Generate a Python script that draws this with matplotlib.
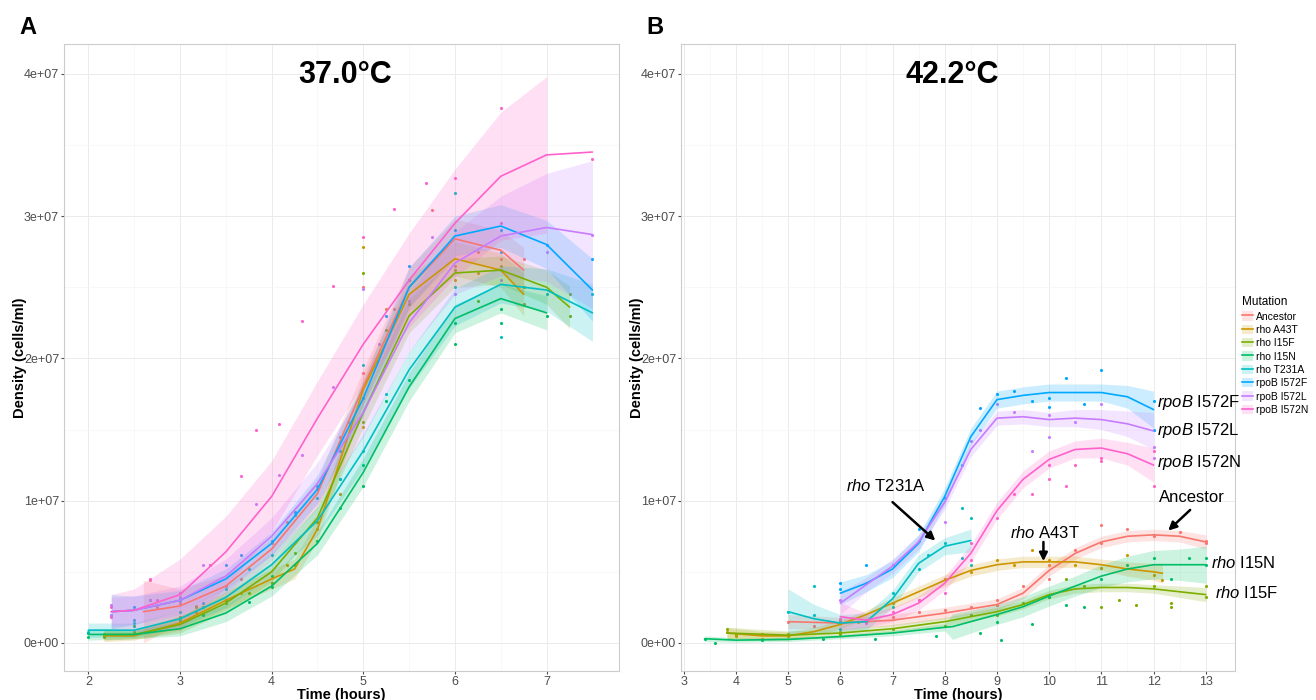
"""
Growth curves of rho / rpoB mutants at 37.0 and 42.2 degrees (two panels).
"""

import matplotlib
matplotlib.use("Agg")
import matplotlib.pyplot as plt
from matplotlib.lines import Line2D
from matplotlib.patches import Patch
from matplotlib.legend_handler import HandlerTuple

# ---- data (density in units of 1e7 cells/ml) ----
SCALE = 1e7

MUTATIONS = ["Ancestor", "rho A43T", "rho I15F", "rho I15N",
             "rho T231A", "rpoB I572F", "rpoB I572L", "rpoB I572N"]
COLORS = ["#F8766D", "#CD9600", "#7CAE00", "#00BE67",
          "#00BFC4", "#00A9FF", "#C77CFF", "#FF61CC"]

TITLE_A = "37.0°C"
TITLE_B = "42.2°C"
X_TICKS_A = [2, 3, 4, 5, 6, 7]
X_TICKS_B = [3, 4, 5, 6, 7, 8, 9, 10, 11, 12, 13]
Y_TICKS = [0, 1, 2, 3, 4]
Y_TICK_LABELS = ["0e+00", "1e+07", "2e+07", "3e+07", "4e+07"]

# smoothed fit: (time, density, band half-width)
A_ANC_FIT = [(2.6, 0.22, 0.22), (3.0, 0.26, 0.12), (3.5, 0.40, 0.08), (4.0, 0.66, 0.08),
             (4.5, 1.05, 0.10), (5.0, 1.80, 0.12), (5.5, 2.50, 0.14), (6.0, 2.84, 0.14),
             (6.5, 2.76, 0.14), (6.75, 2.62, 0.16)]
A_A43T_FIT = [(2.17, 0.05, 0.04), (2.5, 0.05, 0.03), (3.0, 0.14, 0.05), (3.5, 0.30, 0.06),
              (4.0, 0.45, 0.07), (4.25, 0.52, 0.07), (4.5, 0.80, 0.08), (5.0, 1.78, 0.10),
              (5.5, 2.45, 0.12), (6.0, 2.70, 0.12), (6.5, 2.62, 0.12), (6.75, 2.45, 0.15)]
A_I15F_FIT = [(2.17, 0.06, 0.04), (2.5, 0.06, 0.03), (3.0, 0.13, 0.06), (3.5, 0.28, 0.06),
              (4.0, 0.50, 0.07), (4.5, 0.88, 0.08), (5.0, 1.62, 0.10), (5.5, 2.30, 0.12),
              (6.0, 2.60, 0.10), (6.5, 2.62, 0.10), (7.0, 2.50, 0.12), (7.25, 2.36, 0.15)]
A_I15N_FIT = [(2.0, 0.06, 0.04), (2.5, 0.06, 0.03), (3.0, 0.10, 0.05), (3.5, 0.21, 0.06),
              (4.0, 0.40, 0.07), (4.5, 0.70, 0.08), (5.0, 1.20, 0.10), (5.5, 1.80, 0.10),
              (6.0, 2.28, 0.10), (6.5, 2.42, 0.10), (7.0, 2.32, 0.12)]
A_T231A_FIT = [(2.0, 0.09, 0.05), (2.5, 0.09, 0.05), (3.0, 0.17, 0.06), (3.5, 0.32, 0.07),
               (4.0, 0.55, 0.08), (4.5, 0.86, 0.10), (5.0, 1.35, 0.12), (5.5, 1.92, 0.13),
               (6.0, 2.36, 0.13), (6.5, 2.52, 0.13), (7.0, 2.48, 0.15), (7.5, 2.32, 0.20)]
A_I572F_FIT = [(2.25, 0.22, 0.12), (2.5, 0.23, 0.10), (3.0, 0.30, 0.07), (3.5, 0.45, 0.07),
               (4.0, 0.70, 0.08), (4.5, 1.08, 0.10), (5.0, 1.72, 0.12), (5.5, 2.50, 0.14),
               (6.0, 2.86, 0.14), (6.5, 2.93, 0.15), (7.0, 2.80, 0.17), (7.5, 2.48, 0.22)]
A_I572L_FIT = [(2.25, 0.22, 0.10), (2.5, 0.23, 0.10), (3.0, 0.30, 0.10), (3.5, 0.47, 0.12),
               (4.0, 0.75, 0.13), (4.5, 1.12, 0.15), (5.0, 1.62, 0.17), (5.5, 2.25, 0.20),
               (6.0, 2.67, 0.22), (6.5, 2.86, 0.28), (7.0, 2.92, 0.38), (7.5, 2.87, 0.52)]
A_I572N_FIT = [(2.25, 0.22, 0.12), (2.5, 0.23, 0.15), (3.0, 0.34, 0.25), (3.5, 0.64, 0.25),
               (4.0, 1.03, 0.25), (4.5, 1.58, 0.26), (5.0, 2.10, 0.28), (5.5, 2.55, 0.33),
               (6.0, 2.95, 0.38), (6.5, 3.28, 0.45), (7.0, 3.43, 0.55), (7.5, 3.45, None)]

B_ANC_FIT = [(5.0, 0.15, 0.05), (6.0, 0.14, 0.04), (7.0, 0.16, 0.04), (8.0, 0.21, 0.04),
             (9.0, 0.27, 0.04), (9.5, 0.35, 0.04), (10.0, 0.51, 0.04), (10.5, 0.63, 0.04),
             (11.0, 0.71, 0.04), (11.5, 0.75, 0.04), (12.0, 0.76, 0.04), (12.5, 0.75, 0.04),
             (13.0, 0.71, 0.05)]
B_A43T_FIT = [(3.83, 0.07, 0.04), (4.5, 0.05, 0.03), (5.0, 0.05, 0.03), (5.5, 0.08, 0.03),
              (6.0, 0.13, 0.03), (6.5, 0.20, 0.03), (7.0, 0.28, 0.04), (7.5, 0.36, 0.04),
              (8.0, 0.44, 0.04), (8.5, 0.51, 0.04), (9.0, 0.55, 0.04), (9.5, 0.57, 0.04),
              (10.0, 0.57, 0.04), (10.5, 0.57, 0.04), (11.0, 0.55, 0.04), (11.5, 0.52, 0.05),
              (12.0, 0.50, 0.06), (12.17, 0.49, 0.07)]
B_I15F_FIT = [(3.83, 0.07, 0.04), (5.0, 0.055, 0.03), (6.0, 0.07, 0.03), (7.0, 0.10, 0.03),
              (8.0, 0.15, 0.03), (9.0, 0.22, 0.03), (9.5, 0.27, 0.03), (10.0, 0.34, 0.03),
              (10.5, 0.38, 0.03), (11.0, 0.39, 0.03), (11.5, 0.39, 0.03), (12.0, 0.38, 0.03),
              (12.5, 0.36, 0.04), (13.0, 0.34, 0.05)]
B_I15N_FIT = [(3.4, 0.03, 0.02), (4.0, 0.02, 0.015), (5.0, 0.025, 0.015), (6.0, 0.045, 0.015),
              (7.0, 0.07, 0.02), (8.0, 0.11, 0.025), (8.15, 0.115, 0.09), (8.5, 0.15, 0.08),
              (9.0, 0.20, 0.07), (9.5, 0.255, 0.07), (10.0, 0.33, 0.07), (10.5, 0.40, 0.07),
              (11.0, 0.47, 0.08), (11.5, 0.52, 0.09), (12.0, 0.55, 0.10), (12.5, 0.55, 0.11),
              (13.0, 0.55, 0.13)]
B_T231A_FIT = [(5.0, 0.22, 0.16), (5.5, 0.17, 0.10), (6.0, 0.14, 0.06), (6.5, 0.15, 0.06),
               (7.0, 0.31, 0.06), (7.5, 0.56, 0.06), (8.0, 0.68, 0.06), (8.5, 0.72, 0.08)]
B_I572F_FIT = [(6.0, 0.35, 0.08), (6.5, 0.42, 0.06), (7.0, 0.52, 0.06), (7.5, 0.70, 0.06),
               (8.0, 1.03, 0.06), (8.5, 1.45, 0.06), (9.0, 1.71, 0.06), (9.5, 1.74, 0.06),
               (10.0, 1.76, 0.06), (10.5, 1.76, 0.06), (11.0, 1.76, 0.06), (11.5, 1.73, 0.08),
               (12.0, 1.64, 0.13)]
B_I572L_FIT = [(6.0, 0.28, 0.08), (6.5, 0.41, 0.05), (7.0, 0.54, 0.05), (7.5, 0.71, 0.05),
               (8.0, 0.99, 0.05), (8.5, 1.36, 0.05), (9.0, 1.58, 0.05), (9.5, 1.59, 0.05),
               (10.0, 1.57, 0.05), (10.5, 1.58, 0.06), (11.0, 1.57, 0.07), (11.5, 1.54, 0.09),
               (12.0, 1.49, 0.13)]
B_I572N_FIT = [(6.0, 0.185, 0.10), (6.5, 0.16, 0.05), (7.0, 0.20, 0.05), (7.5, 0.28, 0.05),
               (8.0, 0.42, 0.05), (8.5, 0.63, 0.06), (9.0, 0.93, 0.06), (9.5, 1.15, 0.06),
               (10.0, 1.29, 0.06), (10.5, 1.36, 0.06), (11.0, 1.37, 0.07), (11.5, 1.33, 0.08),
               (12.0, 1.25, 0.12)]

# measured points: (time, density)
A_ANC_PTS = [(2.67, 0.44), (2.75, 0.25), (3.0, 0.28), (3.17, 0.26), (3.5, 0.40), (3.67, 0.45),
             (4.0, 0.70), (4.17, 0.85), (4.5, 1.08), (4.75, 1.45), (5.0, 1.90), (5.0, 2.50),
             (5.33, 2.35), (5.75, 3.04), (6.0, 2.65), (6.25, 2.75), (6.5, 2.70), (6.75, 2.70)]
A_A43T_PTS = [(2.17, 0.04), (2.17, 0.06), (3.0, 0.15), (3.17, 0.22), (3.5, 0.30), (3.67, 0.35),
              (4.0, 0.42), (4.17, 0.55), (4.5, 0.80), (4.75, 1.05), (5.0, 1.52), (5.0, 2.78),
              (5.25, 2.35), (5.5, 2.55), (6.0, 2.55), (6.25, 2.60), (6.5, 2.65), (6.75, 2.38)]
A_I15F_PTS = [(2.17, 0.05), (2.5, 0.08), (3.0, 0.18), (3.17, 0.25), (3.5, 0.28), (3.75, 0.35),
              (4.0, 0.42), (4.25, 0.63), (4.5, 0.85), (4.75, 1.15), (5.0, 1.55), (5.0, 2.60),
              (5.25, 2.20), (5.5, 2.38), (6.0, 2.62), (6.25, 2.40), (6.75, 2.50), (7.25, 2.30),
              (7.25, 2.45)]
A_I15N_PTS = [(2.0, 0.04), (2.0, 0.07), (2.5, 0.12), (3.0, 0.16), (3.25, 0.20), (3.5, 0.30),
              (3.75, 0.29), (4.0, 0.39), (4.0, 0.47), (4.25, 0.55), (4.5, 0.72), (4.75, 0.95),
              (5.0, 1.10), (5.0, 1.25), (5.25, 1.70), (5.5, 1.85), (6.0, 2.10), (6.0, 2.25),
              (6.5, 2.35), (6.5, 2.25), (7.0, 2.30)]
A_T231A_PTS = [(2.0, 0.08), (2.5, 0.14), (2.5, 0.16), (3.0, 0.22), (3.25, 0.25), (3.5, 0.38),
               (3.75, 0.52), (4.0, 0.62), (4.25, 0.90), (4.5, 1.02), (4.75, 1.15), (5.0, 1.35),
               (5.0, 1.95), (5.25, 1.75), (5.5, 2.55), (6.0, 3.16), (6.0, 2.50), (6.5, 2.15),
               (6.5, 2.62), (7.0, 2.45), (7.5, 2.45)]
A_I572F_PTS = [(2.25, 0.20), (2.5, 0.25), (2.67, 0.30), (3.0, 0.30), (3.25, 0.28), (3.5, 0.55),
               (3.67, 0.62), (4.0, 0.72), (4.25, 0.92), (4.5, 1.10), (4.75, 1.35), (5.0, 1.72),
               (5.25, 2.30), (5.5, 2.65), (6.0, 2.90), (6.5, 2.90), (6.5, 2.75), (7.0, 2.80),
               (7.5, 2.70)]
A_I572L_PTS = [(2.25, 0.20), (2.25, 0.27), (2.67, 0.30), (3.0, 0.32), (3.25, 0.55), (3.33, 0.55),
               (3.83, 0.98), (4.08, 1.18), (4.33, 1.32), (4.67, 1.80), (4.83, 1.55), (5.0, 2.49),
               (5.17, 2.10), (5.5, 2.40), (5.75, 2.85), (6.0, 2.45), (6.5, 2.55), (7.0, 2.75),
               (7.5, 2.87)]
A_I572N_PTS = [(2.25, 0.18), (2.25, 0.25), (2.67, 0.45), (2.75, 0.30), (3.0, 0.35), (3.33, 0.55),
               (3.67, 1.17), (3.83, 1.50), (4.08, 1.54), (4.33, 2.26), (4.67, 2.51), (5.0, 2.85),
               (5.33, 3.05), (5.68, 3.23), (6.0, 3.27), (6.5, 3.76), (6.5, 2.95), (7.5, 3.40)]

B_ANC_PTS = [(5.0, 0.15), (5.5, 0.12), (6.0, 0.16), (6.5, 0.15), (7.0, 0.18), (7.5, 0.22),
             (8.0, 0.23), (8.5, 0.25), (9.0, 0.30), (9.0, 0.27), (9.5, 0.40), (10.0, 0.55),
             (10.0, 0.45), (10.5, 0.65), (11.0, 0.83), (11.0, 0.70), (11.5, 0.80), (12.0, 0.75),
             (12.5, 0.78), (13.0, 0.70), (13.0, 0.72)]
B_A43T_PTS = [(3.83, 0.08), (4.0, 0.05), (4.5, 0.03), (5.0, 0.06), (6.0, 0.08), (6.33, 0.15),
              (7.0, 0.28), (7.5, 0.30), (8.0, 0.45), (8.5, 0.50), (9.0, 0.58), (9.33, 0.55),
              (9.67, 0.65), (10.0, 0.58), (10.5, 0.55), (11.0, 0.53), (11.5, 0.62), (12.0, 0.48),
              (12.17, 0.44)]
B_I15F_PTS = [(3.83, 0.10), (4.0, 0.06), (4.5, 0.06), (5.0, 0.05), (6.0, 0.06), (7.0, 0.10),
              (8.0, 0.12), (8.5, 0.20), (9.0, 0.20), (9.5, 0.28), (10.0, 0.32), (10.33, 0.45),
              (10.67, 0.40), (11.0, 0.25), (11.33, 0.30), (11.67, 0.27), (12.0, 0.40),
              (12.33, 0.25), (12.33, 0.28), (13.0, 0.32), (13.0, 0.40)]
B_I15N_PTS = [(3.4, 0.03), (3.6, 0.00), (4.5, 0.02), (5.67, 0.03), (6.67, 0.03), (7.83, 0.05),
              (8.67, 0.07), (9.0, 0.15), (9.08, 0.02), (9.67, 0.13), (10.0, 0.32), (10.33, 0.27),
              (10.67, 0.25), (11.0, 0.45), (11.5, 0.55), (12.0, 0.60), (12.33, 0.45),
              (12.67, 0.60), (13.0, 0.55), (13.0, 0.60)]
B_T231A_PTS = [(5.0, 0.22), (5.5, 0.40), (5.5, 0.20), (6.0, 0.10), (6.0, 0.15), (6.5, 0.16),
               (7.0, 0.35), (7.0, 0.25), (7.5, 0.52), (7.67, 0.62), (8.0, 0.70), (8.33, 0.95),
               (8.33, 0.60), (8.5, 0.88), (8.5, 0.55)]
B_I572F_PTS = [(6.0, 0.42), (6.0, 0.38), (6.5, 0.55), (7.0, 0.55), (7.5, 0.80), (8.0, 1.02),
               (8.33, 1.25), (8.67, 1.65), (9.0, 1.75), (9.33, 1.77), (9.67, 1.70), (10.0, 1.72),
               (10.0, 1.66), (10.33, 1.86), (10.67, 1.68), (11.0, 1.92), (12.0, 1.70),
               (12.0, 1.50)]
B_I572L_PTS = [(6.0, 0.30), (6.5, 0.42), (7.0, 0.55), (7.5, 0.72), (8.0, 0.85), (8.5, 1.42),
               (8.67, 1.50), (9.0, 1.68), (9.33, 1.62), (9.67, 1.35), (10.0, 1.45), (10.0, 1.60),
               (10.5, 1.55), (11.0, 1.68), (12.0, 1.38), (12.0, 1.30)]
B_I572N_PTS = [(6.0, 0.17), (6.5, 0.14), (7.0, 0.22), (7.5, 0.30), (8.0, 0.35), (8.5, 0.58),
               (8.5, 0.70), (9.0, 0.88), (9.33, 1.05), (9.67, 1.05), (10.0, 1.15), (10.0, 1.25),
               (10.33, 1.10), (10.5, 1.25), (11.0, 1.28), (11.0, 1.30), (12.0, 1.10),
               (12.0, 1.35)]

# labels written on panel B: (text, time, density)
B_LABELS = [("$\\mathit{rpoB}$ I572F", 12.07, 1.69), ("$\\mathit{rpoB}$ I572L", 12.07, 1.49),
            ("$\\mathit{rpoB}$ I572N", 12.07, 1.265), ("$\\mathit{rho}$ T231A", 6.11, 1.10),
            ("$\\mathit{rho}$ A43T", 9.25, 0.77), ("Ancestor", 12.1, 1.02),
            ("$\\mathit{rho}$ I15N", 13.1, 0.56), ("$\\mathit{rho}$ I15F", 13.18, 0.35)]
# arrows on panel B: (tail time, tail density, head time, head density)
B_ARROWS = [(7.0, 0.99, 7.82, 0.72), (12.70, 0.935, 12.28, 0.79), (9.89, 0.71, 9.89, 0.575)]


plt.rcParams["font.family"] = ["Liberation Sans", "DejaVu Sans"]
plt.rcParams["mathtext.fontset"] = "custom"
plt.rcParams["mathtext.rm"] = "Liberation Sans"
plt.rcParams["mathtext.it"] = "Liberation Sans:italic"


def draw_group(ax, fit, pts, color):
    """
    畫一個突變株的點、信賴帶和平滑線。
    """
    ax.scatter([p[0] for p in pts], [p[1] * SCALE for p in pts], s=5, color=color,
               linewidths=0, zorder=2)
    band = [f for f in fit if f[2] is not None]
    ax.fill_between([f[0] for f in band], [(f[1] - f[2]) * SCALE for f in band],
                    [(f[1] + f[2]) * SCALE for f in band], color=color, alpha=0.2,
                    linewidth=0, zorder=3)
    ax.plot([f[0] for f in fit], [f[1] * SCALE for f in fit], color=color, lw=1.2,
            solid_capstyle="round", solid_joinstyle="round", zorder=4)


def style_axes(ax, xlim, xticks, title, title_x):
    """
    仿 ggplot theme_bw 的外觀。
    """
    ax.set_xticks(xticks)
    ax.set_xticks([x + 0.5 for x in xticks[:-1]], minor=True)
    ax.set_yticks([y * SCALE for y in Y_TICKS])
    ax.set_yticklabels(Y_TICK_LABELS)
    ax.set_yticks([(y + 0.5) * SCALE for y in Y_TICKS[:-1]], minor=True)
    # limits after ticks, so the ticks do not widen the view
    ax.set_xlim(*xlim)
    ax.set_ylim(-0.197 * SCALE, 4.209 * SCALE)
    ax.grid(which="major", color="#ebebeb", lw=0.7, zorder=0)
    ax.grid(which="minor", color="#f5f5f5", lw=0.5, zorder=0)
    ax.set_axisbelow(True)
    for spine in ax.spines.values():
        spine.set_color("#cccccc")
        spine.set_linewidth(0.8)
    ax.tick_params(which="major", length=2.5, color="#4d4d4d", labelcolor="#4d4d4d",
                   labelsize=9, pad=1)
    ax.tick_params(which="minor", length=0)
    ax.set_xlabel("Time (hours)", fontsize=10.5, fontweight="bold", labelpad=0)
    ax.set_ylabel("Density (cells/ml)", fontsize=10.5, fontweight="bold", labelpad=-2)
    ax.text(title_x, 0.95, title, transform=ax.transAxes, ha="center", va="center",
            fontsize=22, fontweight="bold")


def main():
    """
    畫出兩個溫度的生長曲線並存成 out.png。
    """
    fig = plt.figure(figsize=(13.16, 7), dpi=100)
    ax_a = fig.add_axes([0.0486, 0.0414, 0.4218, 0.8957])
    ax_b = fig.add_axes([0.5175, 0.0414, 0.421, 0.8957])

    fits_a = [A_ANC_FIT, A_A43T_FIT, A_I15F_FIT, A_I15N_FIT,
              A_T231A_FIT, A_I572F_FIT, A_I572L_FIT, A_I572N_FIT]
    pts_a = [A_ANC_PTS, A_A43T_PTS, A_I15F_PTS, A_I15N_PTS,
             A_T231A_PTS, A_I572F_PTS, A_I572L_PTS, A_I572N_PTS]
    fits_b = [B_ANC_FIT, B_A43T_FIT, B_I15F_FIT, B_I15N_FIT,
              B_T231A_FIT, B_I572F_FIT, B_I572L_FIT, B_I572N_FIT]
    pts_b = [B_ANC_PTS, B_A43T_PTS, B_I15F_PTS, B_I15N_PTS,
             B_T231A_PTS, B_I572F_PTS, B_I572L_PTS, B_I572N_PTS]

    for fit, pts, color in zip(fits_a, pts_a, COLORS):
        draw_group(ax_a, fit, pts, color)
    for fit, pts, color in zip(fits_b, pts_b, COLORS):
        draw_group(ax_b, fit, pts, color)

    style_axes(ax_a, (1.734, 7.79), X_TICKS_A, TITLE_A, 0.506)
    style_axes(ax_b, (2.95, 13.56), X_TICKS_B, TITLE_B, 0.49)

    for text, t, y in B_LABELS:
        ax_b.text(t, y * SCALE, text, fontsize=12, ha="left", va="center",
                  zorder=6, clip_on=False)
    for t0, y0, t1, y1 in B_ARROWS:
        ax_b.annotate("", xy=(t1, y1 * SCALE), xytext=(t0, y0 * SCALE),
                      arrowprops=dict(arrowstyle="-|>", color="black", lw=1.8,
                                      mutation_scale=12, shrinkA=0, shrinkB=0),
                      zorder=6)

    fig.text(28 / 1316, 1 - 28 / 700, "A", fontsize=17, fontweight="bold",
             ha="center", va="center")
    fig.text(655 / 1316, 1 - 28 / 700, "B", fontsize=17, fontweight="bold",
             ha="center", va="center")

    handles = [(Patch(facecolor=c, alpha=0.2, linewidth=0), Line2D([], [], color=c, lw=1.2))
               for c in COLORS]
    fig.legend(handles, MUTATIONS, title="Mutation", loc="upper left",
               bbox_to_anchor=(1238 / 1316, 1 - 292 / 700), frameon=False,
               fontsize=7.5, title_fontsize=8.5, handlelength=1.0, handleheight=1.0,
               handletextpad=0.35, labelspacing=0.3, borderaxespad=0,
               alignment="left", handler_map={tuple: HandlerTuple(ndivide=1)})

    fig.savefig("out.png", dpi=100)


if __name__ == "__main__":
    main()
